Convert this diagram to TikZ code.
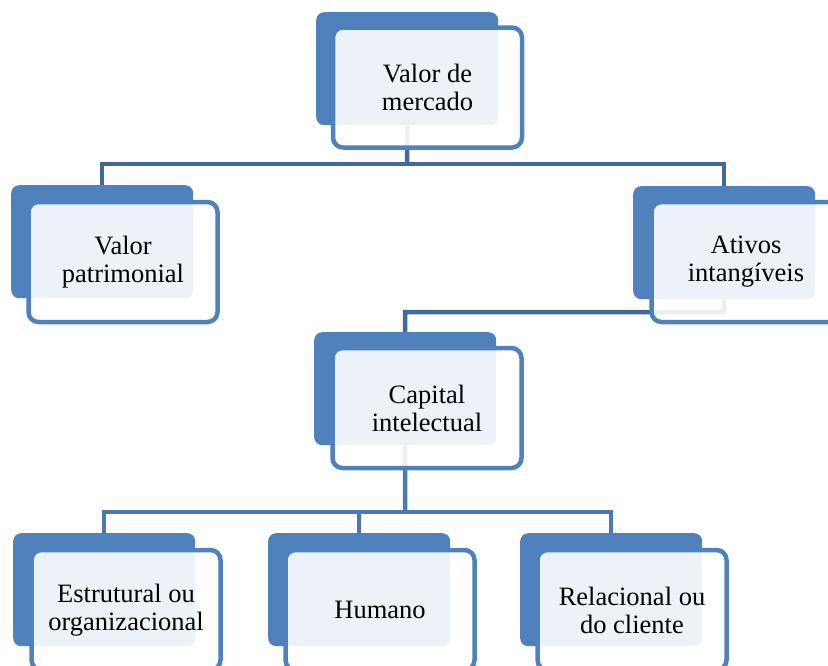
\documentclass[tikz,border=0pt]{standalone}
\usepackage{fontspec}
\setmainfont{Liberation Serif}
\definecolor{boxblue}{RGB}{79,129,189}
\definecolor{linedark}{RGB}{65,105,156}
\definecolor{linemid}{RGB}{74,121,178}
\tikzset{
  backbox/.style={draw=none, fill=boxblue, rounded corners=8pt, minimum width=182pt, minimum height=113pt, inner sep=0pt, anchor=north west},
  frontbox/.style={draw=boxblue, line width=4.5pt, fill=white, fill opacity=0.9, text opacity=1, draw opacity=1, rounded corners=10pt, minimum width=189pt, minimum height=120pt, anchor=center, align=center, inner sep=0pt, font=\fontsize{26.5pt}{28pt}\selectfont},
  conn/.style={line width=4.5pt, draw=#1},
}
\begin{document}
\begin{tikzpicture}[x=1pt,y=-1pt]
\useasboundingbox (0,0) rectangle (828,665);
\clip (0,0) rectangle (828,665);
% back boxes
\node[backbox] (topB) at (316,12) {};
\node[backbox] (patB) at (11,185) {};
\node[backbox] (ativB) at (633,186) {};
\node[backbox] (capB) at (314,332) {};
\node[backbox] (estB) at (13,533) {};
\node[backbox] (humB) at (268,533) {};
\node[backbox] (relB) at (520,533) {};
% connector junctions
\coordinate (j1) at (407,164);
\coordinate (j2) at (724,312);
\coordinate (j3) at (405,512);
% connectors
\draw[conn=linedark] (topB.south) -- (j1);
\draw[conn=linedark] (patB.north) |- (j1) -| (ativB.north);
\draw[conn=linedark] (ativB.south) -- (j2) -| (capB.north);
\draw[conn=linemid] (capB.south) -- (j3);
\draw[conn=linemid] (estB.north) |- (j3) -| (relB.north);
\draw[conn=linemid] (humB.north) -- (humB.north |- j3);
% front boxes
\node[frontbox] (top) at (427.5,87.5) {Valor de\\mercado};
\node[frontbox] (pat) at (123,262) {Valor\\patrimonial};
\node[frontbox] (ativ) at (746,262) {Ativos\\intangíveis};
\node[frontbox] (cap) at (427,408) {Capital\\intelectual};
\node[frontbox] (est) at (126,610) {Estrutural ou\\organizacional};
\node[frontbox] (hum) at (380,610) {Humano};
\node[frontbox] (rel) at (632,610) {Relacional ou\\do cliente};
\end{tikzpicture}
\end{document}
